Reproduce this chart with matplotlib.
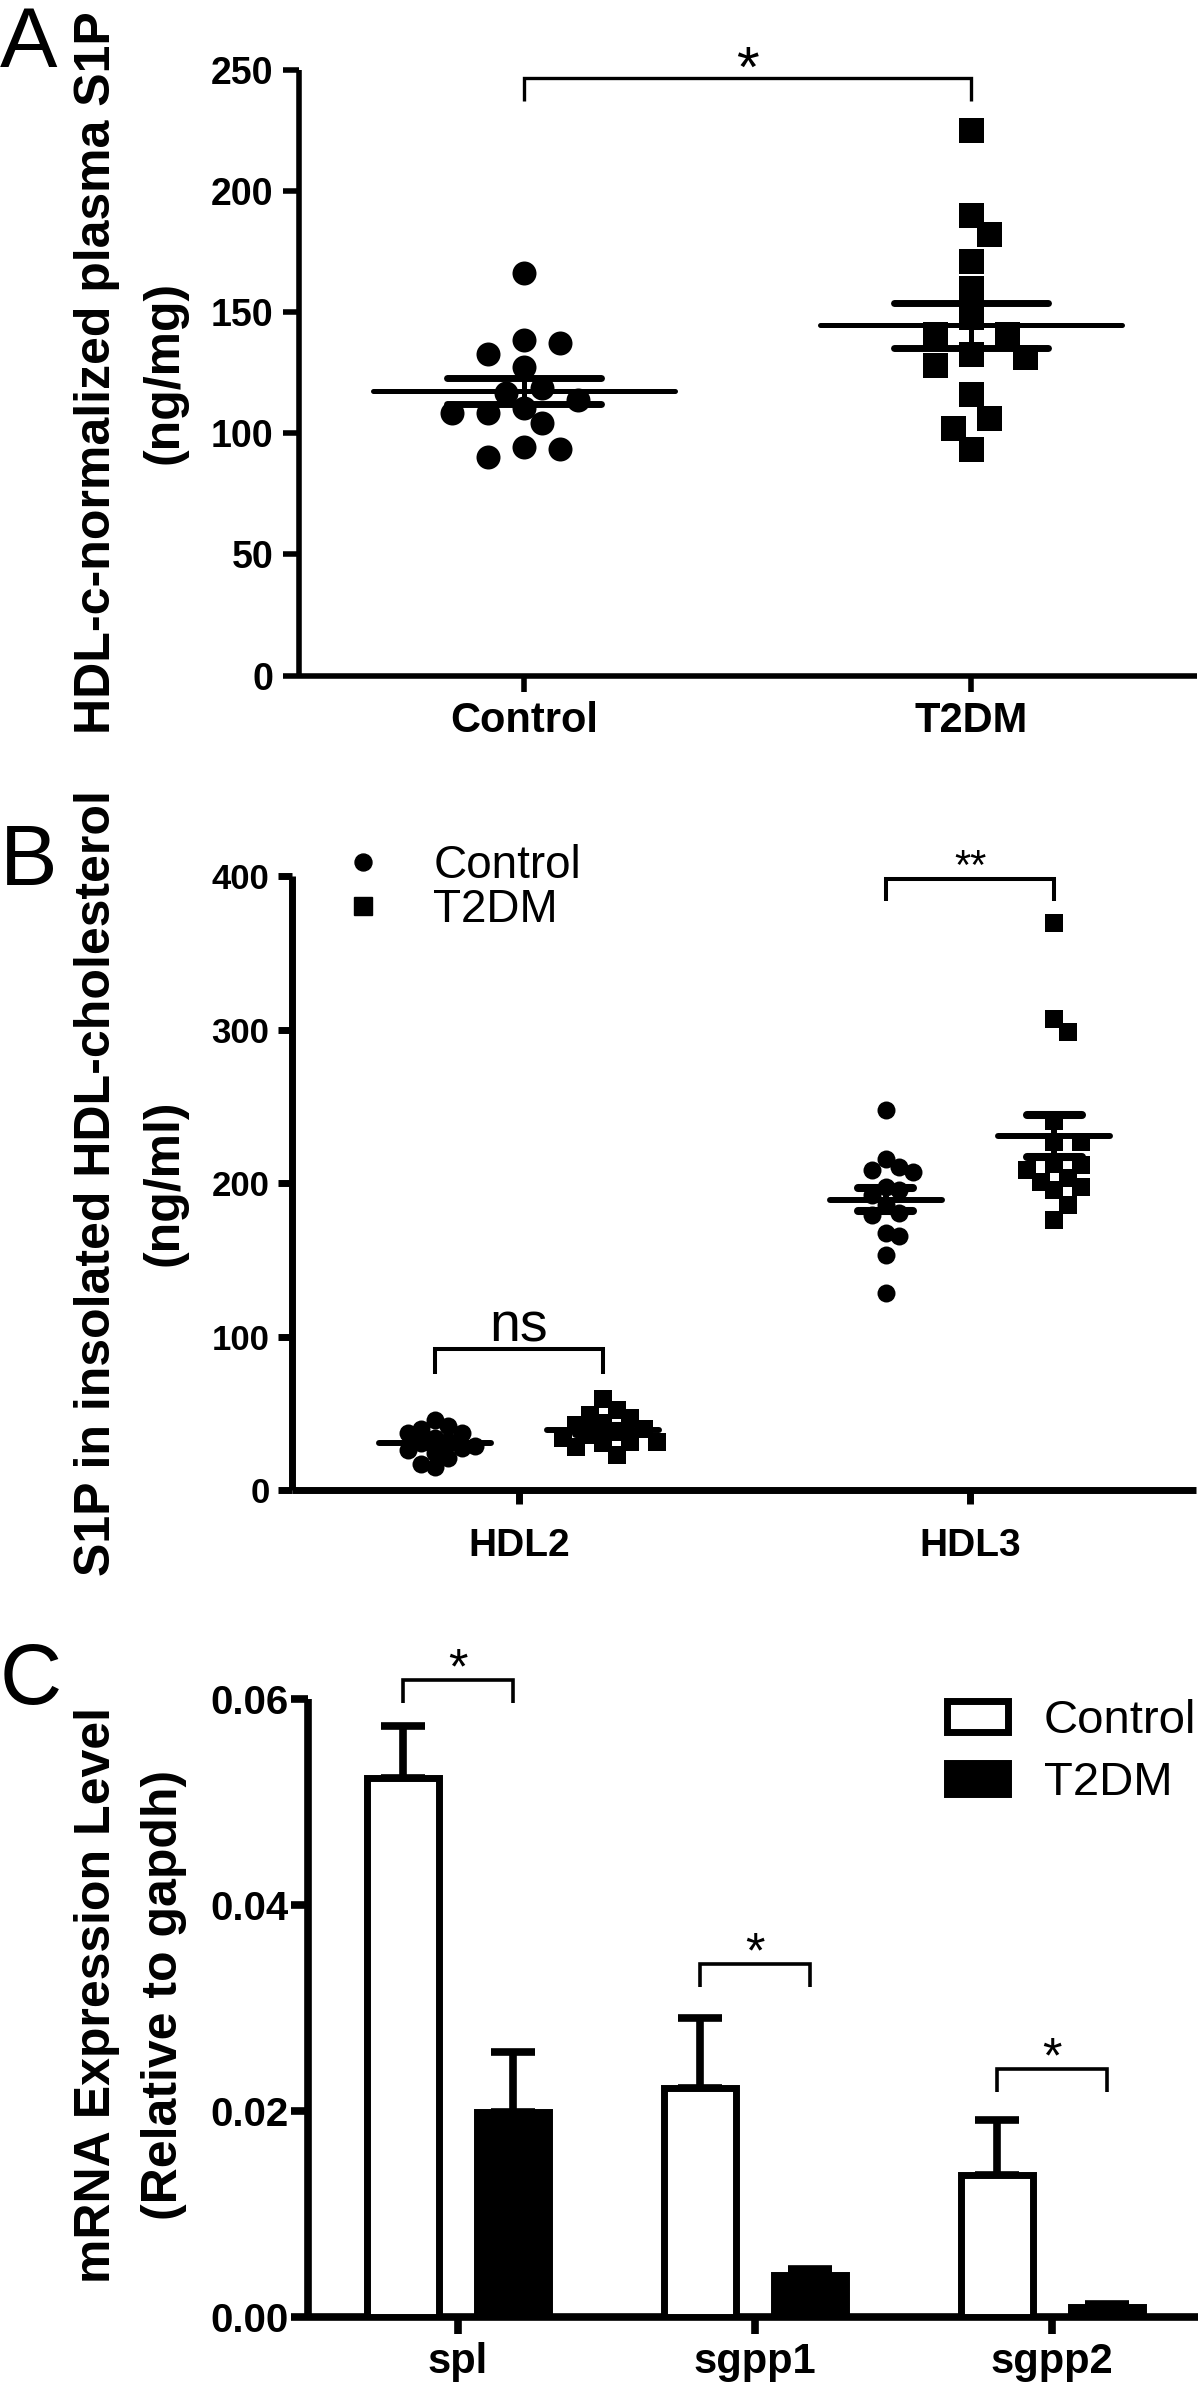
import numpy as np
import matplotlib
matplotlib.use("Agg")
import matplotlib.pyplot as plt
from matplotlib import font_manager as fm
from matplotlib.lines import Line2D
from matplotlib.patches import Patch

# ---------------- data ----------------
a_groups = ["Control", "T2DM"]
a_control = [166.1, 138.5, 137.4, 132.6, 127.5, 118.9, 116.8, 113.8,
             110.3, 108.3, 108.3, 104.1, 94.5, 93.4, 90.1]
a_t2dm = [225.3, 190.0, 182.4, 171.0, 160.0, 148.0, 141.2, 141.2,
          132.9, 131.5, 128.1, 116.4, 106.4, 102.2, 93.7]
a_ticks = [0, 50, 100, 150, 200, 250]
a_sig = "*"

b_groups = ["HDL2", "HDL3"]
b_control_hdl2 = [45.5, 41.5, 39.7, 37.5, 37.1, 34.0, 32.2, 30.5,
                  29.0, 27.2, 26.5, 24.0, 21.2, 17.2, 15.0]
b_t2dm_hdl2 = [59.2, 52.5, 49.2, 47.0, 43.7, 42.6, 40.0, 38.2,
               36.0, 33.8, 31.6, 31.6, 30.5, 28.0, 22.7]
b_control_hdl3 = [247.7, 215.5, 210.8, 208.6, 207.5, 197.7, 195.6, 192.3,
                  185.8, 180.4, 179.3, 167.4, 165.6, 153.2, 128.3]
b_t2dm_hdl3 = [369.7, 306.8, 298.7, 240.7, 227.0, 227.0, 212.5, 212.0,
               208.6, 203.2, 201.0, 197.7, 195.6, 185.8, 176.0]
b_ticks = [0, 100, 200, 300, 400]
b_sig = ["ns", "**"]

c_genes = ["spl", "sgpp1", "sgpp2"]
c_control_mean = [0.0523, 0.0222, 0.0137]
c_control_sem = [0.0051, 0.0068, 0.0054]
c_t2dm_mean = [0.0199, 0.0040, 0.0009]
c_t2dm_sem = [0.0058, 0.0006, 0.0003]
c_ticks = [0.00, 0.02, 0.04, 0.06]
c_sig = ["*", "*", "*"]
series_labels = ["Control", "T2DM"]

# ---------------- fonts ----------------
names = {f.name for f in fm.fontManager.ttflist}
SANS = "Liberation Sans" if "Liberation Sans" in names else "DejaVu Sans"
plt.rcParams["font.family"] = [SANS, "DejaVu Sans"]

W, H = 1200, 2393
fig = plt.figure(figsize=(W / 100, H / 100), dpi=100)


def add_axes(left, right, top, bottom):
    return fig.add_axes([left / W, 1 - bottom / H, (right - left) / W, (bottom - top) / H])


def style(ax, lw, ticklen, ypad, xpad):
    ax.spines["top"].set_visible(False)
    ax.spines["right"].set_visible(False)
    for s in ("left", "bottom"):
        ax.spines[s].set_linewidth(lw)
        ax.spines[s].set_capstyle("butt")
    ax.tick_params(axis="y", width=lw, length=ticklen, pad=ypad, direction="out")
    ax.tick_params(axis="x", width=lw, length=ticklen, pad=xpad, direction="out")
    ax.patch.set_alpha(0)


def swarm(ax, values, center, coll_px, step_px):
    """Deterministic beeswarm: shift points sideways (in pixel steps) until they
    no longer collide with already placed points."""
    pos = ax.get_position()
    x0, x1 = ax.get_xlim()
    y0, y1 = ax.get_ylim()
    sx = pos.width * W / (x1 - x0)
    sy = pos.height * H / (y1 - y0)
    cands = [0]
    for i in range(1, 30):
        cands += [i, -i]
    placed, xs = [], []
    for v in values:
        yp = v * sy
        dx = 0
        for c in cands:
            dx = c * step_px
            if all((dx - px) ** 2 + (yp - py) ** 2 >= coll_px ** 2 for px, py in placed):
                break
        placed.append((dx, yp))
        xs.append(center + dx / sx)
    return np.array(xs)


def mean_sem(ax, x, vals, half_mean, half_sem, lw_mean, lw_sem):
    v = np.asarray(vals, float)
    m = v.mean()
    s = v.std(ddof=1) / np.sqrt(len(v))
    l1 = ax.hlines(m, x - half_mean, x + half_mean, colors="k", lw=lw_mean, zorder=4)
    l2 = ax.hlines([m - s, m + s], x - half_sem, x + half_sem, colors="k", lw=lw_sem, zorder=4)
    l3 = ax.vlines(x, m - s, m + s, colors="k", lw=lw_mean, zorder=4)
    for l in (l1, l2, l3):
        l.set_capstyle("round")


def bracket(ax, x1, x2, y, drop, lw, text, fs, off):
    ax.plot([x1, x1, x2, x2], [y - drop, y, y, y - drop], color="k", lw=lw,
            clip_on=False, solid_joinstyle="miter", solid_capstyle="butt", zorder=5)
    ax.annotate(text, xy=((x1 + x2) / 2, y), xytext=(0, off), textcoords="offset points",
                ha="center", va="baseline", fontsize=fs, annotation_clip=False)


def ylabel(yc_px, line1, line2):
    yc = 1 - yc_px / H
    fig.text(97 / W, yc, line1, rotation=90, ha="center", va="center",
             fontsize=36, fontweight="bold")
    fig.text(164 / W, yc, line2, rotation=90, ha="center", va="center",
             fontsize=36, fontweight="bold")


# ---------------- Panel A ----------------
axA = add_axes(299, 1197, 70, 675.5)
axA.set_xlim(-0.503, 1.506)
axA.set_ylim(0, 250)
style(axA, 4, 11.5, 7, 7)
xc = swarm(axA, a_control, 0, 23, 18)
axA.scatter(xc, a_control, s=(24 * 0.72) ** 2, marker="o", color="k", linewidths=0, zorder=3)
xt = swarm(axA, a_t2dm, 1, 25, 18)
axA.scatter(xt, a_t2dm, s=(25 * 0.72) ** 2, marker="s", color="k", linewidths=0, zorder=3)
mean_sem(axA, 0, a_control, 0.338, 0.172, 3.6, 5)
mean_sem(axA, 1, a_t2dm, 0.338, 0.172, 3.6, 5)
axA.set_xticks([0, 1], labels=a_groups, fontsize=30, fontweight="bold")
axA.set_yticks(a_ticks, labels=[str(t) for t in a_ticks], fontsize=27, fontweight="bold")
bracket(axA, 0, 1, 246.5, 9.1, 2.4, a_sig, 42, -6)
ylabel(372.8, "HDL-c-normalized plasma S1P", "(ng/mg)")
fig.text(0.0, 1 - 66.6 / H, "A", fontsize=62, va="baseline", ha="left")

# ---------------- Panel B ----------------
axB = add_axes(291.7, 1196, 876, 1490.2)
axB.set_xlim(-0.504, 1.501)
axB.set_ylim(0, 400)
style(axB, 5, 10, 6, 17)
off = 0.187
b_sets = [(b_control_hdl2, b_t2dm_hdl2), (b_control_hdl3, b_t2dm_hdl3)]
for i, (ctrl, t2) in enumerate(b_sets):
    xc = swarm(axB, ctrl, i - off, 13.5, 13.5)
    axB.scatter(xc, ctrl, s=(18 * 0.72) ** 2, marker="o", color="k", linewidths=0, zorder=3)
    xt = swarm(axB, t2, i + off, 15.5, 13.5)
    axB.scatter(xt, t2, s=(18.3 * 0.72) ** 2, marker="s", color="k", linewidths=0, zorder=3)
    mean_sem(axB, i - off, ctrl, 0.124, 0.061, 4.3, 5.8)
    mean_sem(axB, i + off, t2, 0.124, 0.061, 4.3, 5.8)
axB.set_xticks([0, 1], labels=b_groups, fontsize=28, fontweight="bold")
axB.set_yticks(b_ticks, labels=[str(t) for t in b_ticks], fontsize=25, fontweight="bold")
bracket(axB, -off, off, 91.7, 15.7, 2.9, b_sig[0], 40, 6)
bracket(axB, 1 - off, 1 + off, 398, 14, 2.9, b_sig[1], 30, 0)
axB.legend(handles=[Line2D([], [], marker="o", ls="none", color="k", markersize=12.2),
                    Line2D([], [], marker="s", ls="none", color="k", markersize=13)],
           labels=series_labels, loc="center left", bbox_to_anchor=(0.0665, 0.9797),
           frameon=False, borderpad=0, borderaxespad=0, handlelength=0.5,
           handletextpad=1.28, labelspacing=0.0, prop={"size": 33})
ylabel(1183, "S1P in insolated HDL-cholesterol", "(ng/ml)")
fig.text(0.0, 1 - 885 / H, "B", fontsize=62, va="baseline", ha="left")

# ---------------- Panel C ----------------
axC = add_axes(308, 1198, 1698.8, 2316.5)
axC.set_xlim(-0.505, 2.492)
axC.set_ylim(0, 0.06)
style(axC, 5.5, 12, 2, 6)
x = np.arange(len(c_genes))
bw = 0.2424
cd = 0.185
axC.bar(x - cd, c_control_mean, bw, facecolor="white", edgecolor="k", lw=5, zorder=3)
axC.bar(x + cd, c_t2dm_mean, bw, facecolor="k", edgecolor="k", lw=5, zorder=3)
axC.errorbar(x - cd, c_control_mean, yerr=[np.zeros(len(x)), c_control_sem], fmt="none",
             ecolor="k", elinewidth=5.5, capsize=15.5, capthick=5.5, zorder=2)
axC.errorbar(x + cd, c_t2dm_mean, yerr=[np.zeros(len(x)), c_t2dm_sem], fmt="none",
             ecolor="k", elinewidth=5.5, capsize=15.5, capthick=5.5, zorder=2)
c_brk = [0.0618, 0.0342, 0.0240]
for i in range(len(c_genes)):
    bracket(axC, i - cd, i + cd, c_brk[i], 0.0022, 2.6, c_sig[i], 36, -2)
axC.set_xticks(x, labels=c_genes, fontsize=30, fontweight="bold")
axC.set_yticks(c_ticks, labels=["%.2f" % t for t in c_ticks], fontsize=29, fontweight="bold")
axC.legend(handles=[Patch(facecolor="white", edgecolor="k", lw=5),
                    Patch(facecolor="k", edgecolor="k", lw=5)],
           labels=series_labels, loc="center left", bbox_to_anchor=(0.7185, 0.9136),
           frameon=False, borderpad=0, borderaxespad=0, handlelength=1.29,
           handleheight=0.64, handletextpad=0.75, labelspacing=0.39,
           prop={"size": 34})
ylabel(1995, "mRNA Expression Level", "(Relative to gapdh)")
fig.text(0.0, 1 - 1704 / H, "C", fontsize=62, va="baseline", ha="left")

fig.savefig("out.png", dpi=100)
